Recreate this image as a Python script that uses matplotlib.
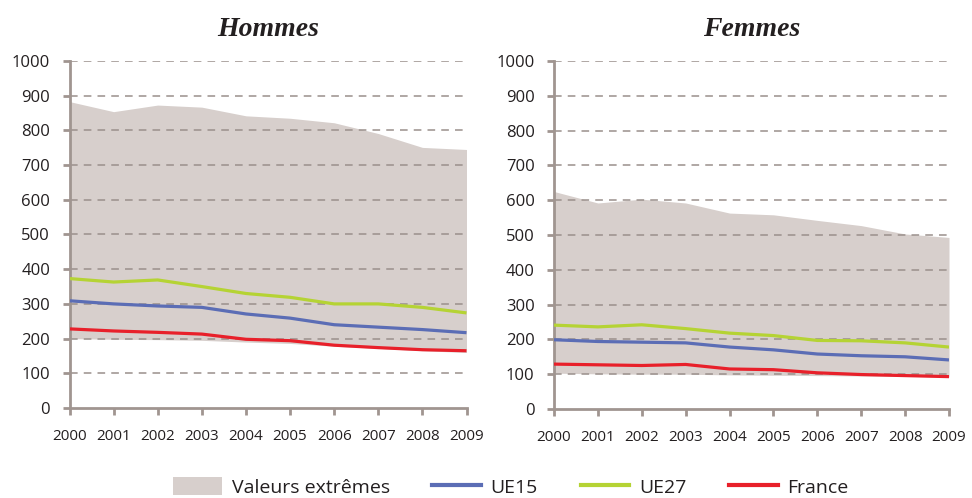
import numpy as np
import matplotlib
matplotlib.use("Agg")
from matplotlib import pyplot as plt
from matplotlib.patches import Patch
from matplotlib.lines import Line2D

plt.rcParams['font.family'] = ['Open Sans', 'DejaVu Sans']

years = [2000, 2001, 2002, 2003, 2004, 2005, 2006, 2007, 2008, 2009]

# Hommes
h_max = [883, 854, 873, 867, 842, 835, 822, 791, 751, 745]
h_min = [200, 198, 197, 195, 190, 186, 178, 172, 165, 160]
h_ue15 = [309, 300, 294, 290, 271, 259, 240, 233, 226, 217]
h_ue27 = [373, 363, 369, 350, 330, 319, 300, 300, 290, 274]
h_fr = [228, 222, 218, 213, 198, 194, 181, 174, 168, 165]

# Femmes
f_max = [625, 592, 603, 592, 563, 558, 542, 527, 503, 493]
f_min = [103, 101, 100, 100, 98, 97, 96, 95, 94, 92]
f_ue15 = [199, 194, 192, 190, 178, 170, 158, 153, 150, 141]
f_ue27 = [241, 236, 242, 231, 218, 211, 197, 196, 190, 178]
f_fr = [129, 127, 125, 128, 115, 113, 104, 99, 96, 93]

titles = ["Hommes", "Femmes"]
c_fill = "#d7cfcc"
c_ue15 = "#5b6db5"
c_ue27 = "#b5d334"
c_fr = "#e8202a"
c_axis = "#a09590"

W, H = 972, 498
fig = plt.figure(figsize=(W / 100, H / 100), dpi=100)

# positions des axes en pixels (gauche, haut, droite, bas)
boxes = [(69.5, 61, 466.5, 408), (554, 61, 949, 409)]
panels = [(h_max, h_min, h_ue15, h_ue27, h_fr), (f_max, f_min, f_ue15, f_ue27, f_fr)]

for box, data, title in zip(boxes, panels, titles):
    l, t, r, b = box
    ax = fig.add_axes([l / W, 1 - b / H, (r - l) / W, (b - t) / H])
    vmax, vmin, ue15, ue27, fr = data
    ax.fill_between(years, vmin, vmax, color=c_fill, lw=0, zorder=1)
    for v in range(100, 1001, 100):
        ax.axhline(v, color="#9a908c", lw=1.1, dashes=(5, 4), zorder=2)
    ax.plot(years, ue27, color=c_ue27, lw=2.3, zorder=3, solid_capstyle='butt')
    ax.plot(years, ue15, color=c_ue15, lw=2.3, zorder=4, solid_capstyle='butt')
    ax.plot(years, fr, color=c_fr, lw=2.3, zorder=5, solid_capstyle='butt')
    ax.set_xlim(2000, 2009)
    ax.set_ylim(0, 1000)
    ax.set_xticks(years)
    ax.set_yticks(range(0, 1001, 100))
    ax.tick_params(axis='x', labelsize=11, colors=c_axis, labelcolor="#231f20",
                   length=5, width=2, pad=10, direction='out')
    ax.tick_params(axis='y', labelsize=12, colors=c_axis, labelcolor="#231f20",
                   length=5, width=2, pad=9, direction='out')
    for s in ['top', 'right']:
        ax.spines[s].set_visible(False)
    for s in ['left', 'bottom']:
        ax.spines[s].set_color(c_axis)
        ax.spines[s].set_linewidth(2)
    ax.set_facecolor('none')
    fig.text((l + r) / 2 / W, 1 - 30 / H, title, ha='center', va='center',
             fontsize=20, fontstyle='italic', fontweight='bold',
             family=['Liberation Serif', 'DejaVu Serif'], color="#231f20")

handles = [
    Patch(facecolor=c_fill, edgecolor='none'),
    Line2D([], [], color=c_ue15, lw=3),
    Line2D([], [], color=c_ue27, lw=3),
    Line2D([], [], color=c_fr, lw=3),
]
labels = ["Valeurs extrêmes", "UE15", "UE27", "France"]
fig.legend(handles, labels, loc='center', bbox_to_anchor=(511 / W, 1 - 487 / H), ncol=4,
           frameon=False, fontsize=14, handlelength=2.5, handleheight=1.0,
           columnspacing=2.2, handletextpad=0.5, labelcolor="#231f20")

fig.savefig("out.png", dpi=100)
